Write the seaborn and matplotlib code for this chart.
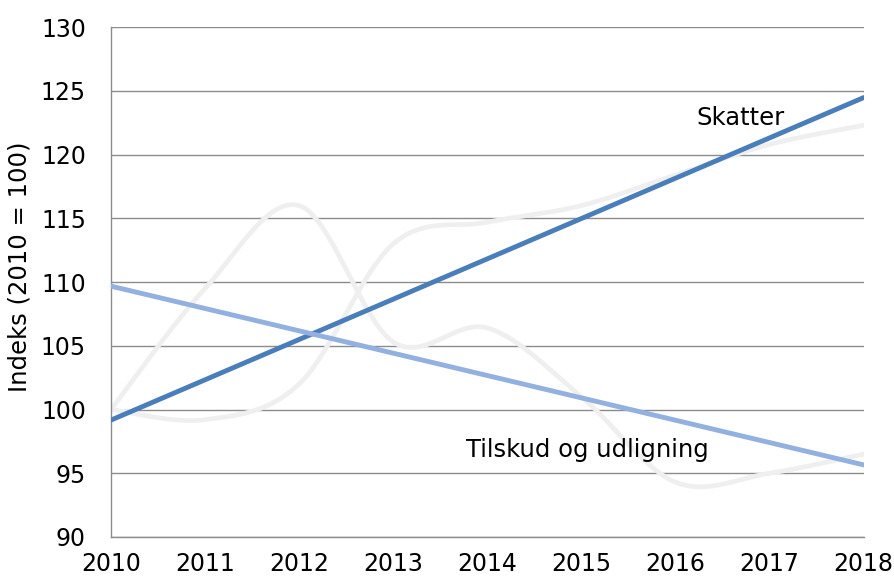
import numpy as np
import pandas as pd
import matplotlib
matplotlib.use("Agg")
import matplotlib.pyplot as plt
import seaborn as sns

years = [2010, 2011, 2012, 2013, 2014, 2015, 2016, 2017, 2018]
skatter = [100.0, 99.2, 102.0, 113.0, 114.7, 116.0, 118.4, 120.8, 122.3]
tilskud = [100.0, 109.5, 116.0, 105.3, 106.4, 101.0, 94.3, 95.0, 96.5]
y_ticks = [90, 95, 100, 105, 110, 115, 120, 125, 130]
x_ticks = years
label_skatter = "Skatter"
label_tilskud = "Tilskud og udligning"
y_label = "Indeks (2010 = 100)"

sns.set_theme(style="white")
plt.rcParams['font.family'] = ['DejaVu Sans']


def smooth(xs, ys, n=40):
    # Excel-style smoothed line (Catmull-Rom Bezier) through the given points
    xs = np.asarray(xs, float)
    ys = np.asarray(ys, float)
    px, py = [], []
    for i in range(len(xs) - 1):
        p0 = (xs[max(i - 1, 0)], ys[max(i - 1, 0)])
        p1 = (xs[i], ys[i])
        p2 = (xs[i + 1], ys[i + 1])
        p3 = (xs[min(i + 2, len(xs) - 1)], ys[min(i + 2, len(xs) - 1)])
        c1 = (p1[0] + (p2[0] - p0[0]) / 6, p1[1] + (p2[1] - p0[1]) / 6)
        c2 = (p2[0] - (p3[0] - p1[0]) / 6, p2[1] - (p3[1] - p1[1]) / 6)
        t = np.linspace(0, 1, n, endpoint=(i == len(xs) - 2))
        b0 = (1 - t) ** 3
        b1 = 3 * (1 - t) ** 2 * t
        b2 = 3 * (1 - t) * t ** 2
        b3 = t ** 3
        px.append(b0 * p1[0] + b1 * c1[0] + b2 * c2[0] + b3 * p2[0])
        py.append(b0 * p1[1] + b1 * c1[1] + b2 * c2[1] + b3 * p2[1])
    return np.concatenate(px), np.concatenate(py)


fig = plt.figure(figsize=(8.95, 5.78), dpi=100)
ax = fig.add_axes([0.124, 0.071, 0.841, 0.882])

gray = "#efefef"
for series in (skatter, tilskud):
    sx, sy = smooth(years, series)
    sns.lineplot(x=sx, y=sy, ax=ax, color=gray, linewidth=3.4, sort=False,
                 estimator=None, zorder=2)

df = pd.DataFrame({"year": years, "skatter": skatter, "tilskud": tilskud})
sns.regplot(data=df, x="year", y="skatter", ax=ax, scatter=False, ci=None,
            truncate=True, color="#4a7ebb", line_kws={"linewidth": 3.5, "zorder": 3})
sns.regplot(data=df, x="year", y="tilskud", ax=ax, scatter=False, ci=None,
            truncate=True, color="#92b0e0", line_kws={"linewidth": 3.5, "zorder": 3})

ax.set_xlim(2010, 2018)
ax.set_ylim(90, 130)
ax.set_xticks(x_ticks)
ax.set_xticklabels([str(v) for v in x_ticks])
ax.set_yticks(y_ticks)
ax.set_yticklabels([str(v) for v in y_ticks])
ax.grid(axis="y", color="#8c8c8c", linewidth=1.0)
ax.set_axisbelow(True)
for s in ("top", "right"):
    ax.spines[s].set_visible(False)
for s in ("left", "bottom"):
    ax.spines[s].set_color("#8c8c8c")
    ax.spines[s].set_linewidth(1.0)
ax.tick_params(axis="both", which="major", length=6, width=1.0, color="#8c8c8c",
               labelsize=17, labelcolor="black", direction="out")
ax.tick_params(axis="y", pad=12)
ax.tick_params(axis="x", pad=5)
ax.set_xlabel("")
ax.set_ylabel(y_label, fontsize=17.5, color="black")
ax.yaxis.set_label_coords(-0.106, 0.53)

ax.text(2016.22, 122.9, label_skatter, fontsize=17.5, color="black",
        ha="left", va="center")
ax.text(2013.77, 96.8, label_tilskud, fontsize=17.5, color="black",
        ha="left", va="center")

fig.savefig("out.png", dpi=100)
